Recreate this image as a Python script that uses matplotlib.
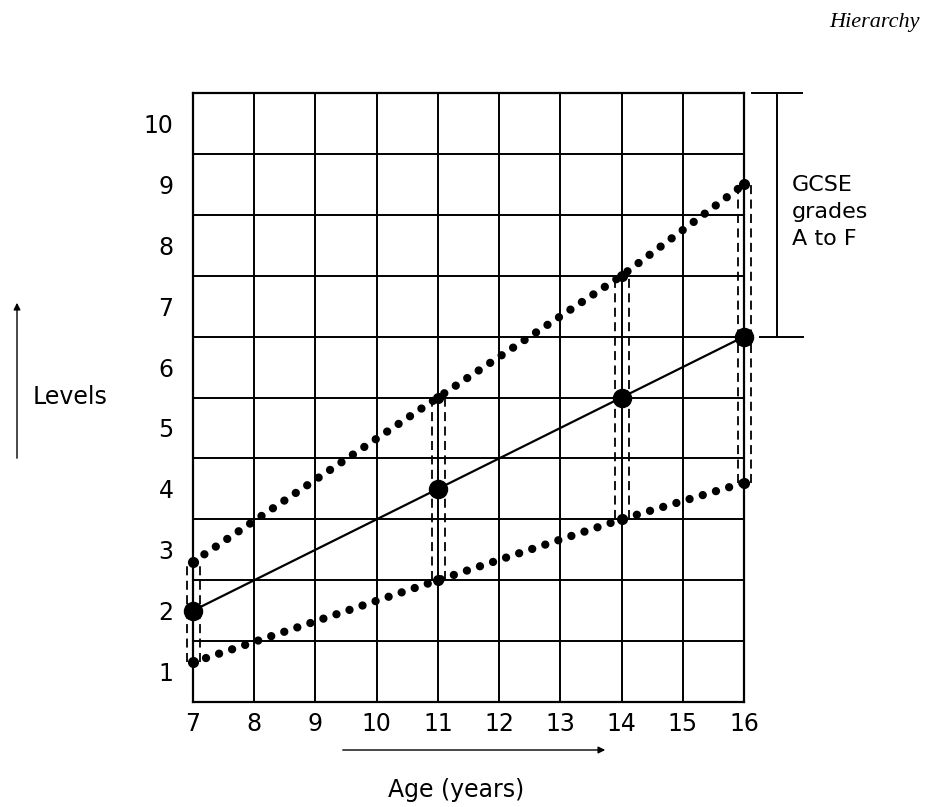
import matplotlib.pyplot as plt

# data
ages = [7, 11, 14, 16]
mean_level = [2, 4, 5.5, 6.5]
upper_level = [2.8, 5.5, 7.5, 9]
lower_level = [1.15, 2.5, 3.5, 4.1]
age_ticks = list(range(7, 17))
level_ticks = list(range(1, 11))

fnt = "DejaVu Sans"

fig = plt.figure(figsize=(9.3, 8.07), dpi=100)
ax = fig.add_axes([0.2075, 0.1301, 0.5925, 0.7546])

# grid: vertical lines on each age, horizontal lines between levels
ax.set_xlim(7, 16)
ax.set_ylim(0.5, 10.5)
ax.set_xticks(age_ticks)
ax.set_yticks(level_ticks)
ax.set_yticks([l + 0.5 for l in range(0, 10)], minor=True)
ax.grid(True, which="major", axis="x", color="black", lw=1.4)
ax.grid(True, which="minor", axis="y", color="black", lw=1.4)
ax.tick_params(which="both", length=0)
ax.tick_params(axis="y", pad=14)
ax.tick_params(axis="x", pad=7)
for lab in ax.get_xticklabels() + ax.get_yticklabels():
    lab.set_fontfamily(fnt)
    lab.set_fontsize(17)
for s in ax.spines.values():
    s.set_linewidth(1.6)
ax.set_axisbelow(True)

# dashed verticals between lower and upper at each age
for a, lo, up in zip(ages, lower_level, upper_level):
    for off in (-0.1, 0.12):
        ax.plot([a + off, a + off], [lo, up], color="black", lw=1.3,
                linestyle=(0, (5, 3)), clip_on=False, zorder=3)

# dotted range lines
for ser in (upper_level, lower_level):
    ax.plot(ages, ser, color="black", lw=6, linestyle=(0, (0.001, 1.65)),
            dash_capstyle="round", clip_on=False, zorder=4)
    ax.plot(ages, ser, linestyle="none", marker="o", ms=7, color="black",
            clip_on=False, zorder=4)

# mean line
ax.plot(ages, mean_level, color="black", lw=1.6, marker="o", ms=13,
        clip_on=False, zorder=5)

# GCSE bracket
ax.plot([16.54, 16.54], [6.5, 10.5], color="black", lw=1.4, clip_on=False)
ax.plot([16.13, 16.95], [10.5, 10.5], color="black", lw=1.4, clip_on=False)
ax.plot([16.26, 16.97], [6.5, 6.5], color="black", lw=1.4, clip_on=False)
ax.text(16.78, 8.55, "GCSE\ngrades\nA to F", fontsize=16, family=fnt,
        va="center", ha="left", linespacing=1.45)

# axis captions with arrows
fig.text(33 / 930, 1 - 397 / 807, "Levels", fontsize=17, family=fnt,
         va="center", ha="left")
fig.add_artist(plt.Annotation("", xy=(17 / 930, 1 - 300 / 807), xytext=(17 / 930, 1 - 461 / 807),
                              xycoords="figure fraction",
                              arrowprops=dict(arrowstyle="-|>", color="black", lw=1.0,
                                              mutation_scale=10)))
fig.text(456 / 930, 1 - 790 / 807, "Age (years)", fontsize=17, family=fnt,
         va="center", ha="center")
fig.add_artist(plt.Annotation("", xy=(608 / 930, 1 - 750 / 807), xytext=(340 / 930, 1 - 750 / 807),
                              xycoords="figure fraction",
                              arrowprops=dict(arrowstyle="-|>", color="black", lw=1.0,
                                              mutation_scale=10)))

fig.text(920 / 930, 1 - 22 / 807, "Hierarchy", fontsize=16, family="Liberation Serif",
         style="italic", ha="right", va="center")

plt.savefig("out.png", dpi=100)
